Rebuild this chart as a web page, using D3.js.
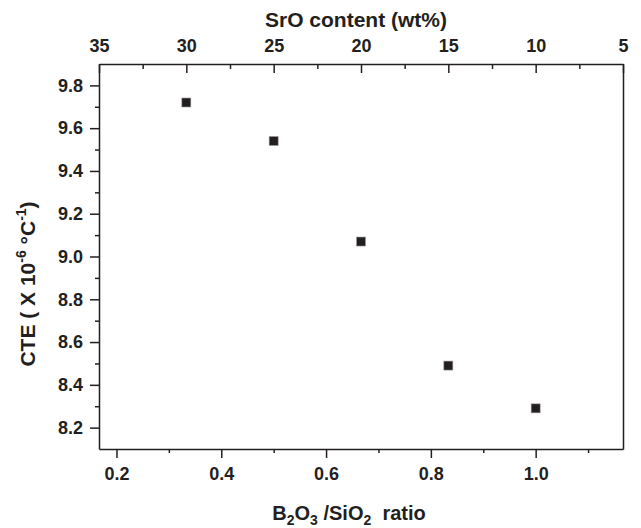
<!DOCTYPE html>
<html lang="en">
<head>
  <meta charset="UTF-8">
  <title>CTE vs B2O3/SiO2 ratio</title>
  <script src="https://d3js.org/d3.v7.min.js"></script>
  <style>
    body {
      margin: 0;
      background: #fff;
      font-family: "Liberation Sans", Arial, sans-serif;
    }
    .axis text {
      font-size: 18px;
      font-weight: bold;
      fill: #231f20;
      font-family: "Liberation Sans", Arial, sans-serif;
    }
    .axis path, .axis line {
      stroke: #231f20;
      stroke-width: 1.5px;
    }
    .title {
      font-weight: bold;
      fill: #231f20;
      white-space: pre;
    }
  </style>
</head>
<body>
  <div id="chart"></div>
  <script>
    // data
    const ratio = [1/3, 0.5, 2/3, 5/6, 1.0];
    const cte = [9.72, 9.54, 9.07, 8.49, 8.29];

    const ratioTicks = [0.2, 0.4, 0.6, 0.8, 1.0];
    const ratioMinor = [0.3, 0.5, 0.7, 0.9, 1.1];
    const sroTicks = [35, 30, 25, 20, 15, 10, 5];
    const sroMinor = [32.5, 27.5, 22.5, 17.5, 12.5, 7.5];
    const cteTicks = [8.2, 8.4, 8.6, 8.8, 9.0, 9.2, 9.4, 9.6, 9.8];
    const cteMinor = [8.3, 8.5, 8.7, 8.9, 9.1, 9.3, 9.5, 9.7];

    const W = 641, H = 528;
    const margin = { top: 64, right: 18, bottom: 79, left: 99 };
    const width = W - margin.left - margin.right;
    const height = H - margin.top - margin.bottom;

    const svg = d3.select("#chart").append("svg")
      .attr("width", W)
      .attr("height", H);

    const g = svg.append("g")
      .attr("transform", "translate(" + margin.left + "," + margin.top + ")");

    const x = d3.scaleLinear().domain([1/6, 7/6]).range([0, width]);
    const xTop = d3.scaleLinear().domain([35, 5]).range([0, width]);
    const y = d3.scaleLinear().domain([8.1, 9.9]).range([height, 0]);

    // bottom axis, ticks outward
    g.append("g")
      .attr("class", "axis")
      .attr("transform", "translate(0," + height + ")")
      .call(d3.axisBottom(x).tickValues(ratioTicks).tickFormat(d3.format(".1f"))
        .tickSizeInner(9).tickSizeOuter(0).tickPadding(9));
    g.append("g")
      .attr("class", "axis")
      .attr("transform", "translate(0," + height + ")")
      .call(d3.axisBottom(x).tickValues(ratioMinor).tickFormat("")
        .tickSizeInner(4).tickSizeOuter(0))
      .select(".domain").remove();

    // top axis, ticks inward
    g.append("g")
      .attr("class", "axis")
      .call(d3.axisTop(xTop).tickValues(sroTicks).tickFormat(d3.format("d"))
        .tickSizeInner(-9).tickSizeOuter(0).tickPadding(12));
    g.append("g")
      .attr("class", "axis")
      .call(d3.axisTop(xTop).tickValues(sroMinor).tickFormat("")
        .tickSizeInner(-5).tickSizeOuter(0))
      .select(".domain").remove();

    // left axis, ticks outward
    g.append("g")
      .attr("class", "axis")
      .call(d3.axisLeft(y).tickValues(cteTicks).tickFormat(d3.format(".1f"))
        .tickSizeInner(9).tickSizeOuter(0).tickPadding(7));
    g.append("g")
      .attr("class", "axis")
      .call(d3.axisLeft(y).tickValues(cteMinor).tickFormat("")
        .tickSizeInner(4).tickSizeOuter(0))
      .select(".domain").remove();

    // right frame
    g.append("g")
      .attr("class", "axis")
      .attr("transform", "translate(" + width + ",0)")
      .call(d3.axisRight(y).tickValues([]).tickSizeOuter(0));

    // markers
    const pts = ratio.map((r, i) => ({ r: r, v: cte[i] }));
    const s = 9;
    g.selectAll(".pt")
      .data(pts)
      .enter().append("rect")
      .attr("class", "pt")
      .attr("x", d => x(d.r) - s / 2)
      .attr("y", d => y(d.v) - s / 2)
      .attr("width", s)
      .attr("height", s)
      .attr("fill", "#231f20")
      .attr("stroke", "#9a9a9a")
      .attr("stroke-width", 0.6);

    // top title
    svg.append("text")
      .attr("class", "title")
      .attr("x", 356)
      .attr("y", 27)
      .attr("text-anchor", "middle")
      .style("font-size", "21px")
      .text("SrO content (wt%)");

    // bottom title
    const xt = svg.append("text")
      .attr("class", "title")
      .attr("x", 349)
      .attr("y", 520)
      .attr("text-anchor", "middle")
      .style("font-size", "20px");
    xt.append("tspan").text("B");
    xt.append("tspan").style("font-size", "14px").attr("dy", 5).text("2");
    xt.append("tspan").attr("dy", -5).text("O");
    xt.append("tspan").style("font-size", "14px").attr("dy", 5).text("3");
    xt.append("tspan").attr("dy", -5).text(" /SiO");
    xt.append("tspan").style("font-size", "14px").attr("dy", 5).text("2");
    xt.append("tspan").attr("dy", -5).text("  ratio");

    // left title
    const yt = svg.append("text")
      .attr("class", "title")
      .attr("transform", "translate(35,284) rotate(-90)")
      .attr("text-anchor", "middle")
      .style("font-size", "21px");
    yt.append("tspan").text("CTE ( X 10");
    yt.append("tspan").style("font-size", "14px").attr("dy", -9).text("-6");
    yt.append("tspan").attr("dy", 9).text(" \u00B0C");
    yt.append("tspan").style("font-size", "14px").attr("dy", -9).text("-1");
    yt.append("tspan").attr("dy", 9).text(")");
  </script>
</body>
</html>
